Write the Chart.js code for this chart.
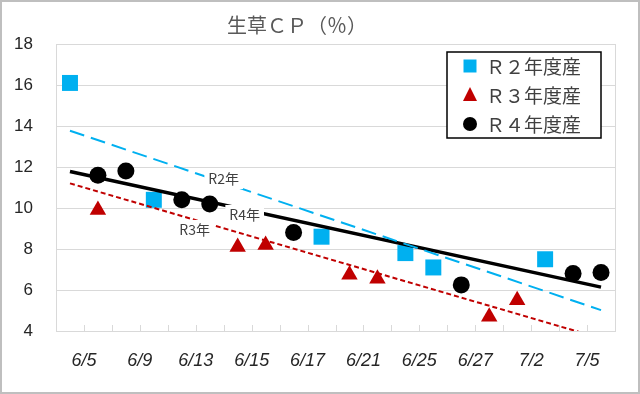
<!DOCTYPE html>
<html>
<head>
<meta charset="utf-8">
<script src="https://cdn.jsdelivr.net/npm/chart.js@4.4.1/dist/chart.umd.min.js"></script>
<style>
  body { margin: 0; background: #fff; }
</style>
</head>
<body>
<canvas id="cpChart" width="640" height="394"></canvas>
<script>
// data
const titleText = "生草ＣＰ（％）";
const xLabels = ["6/5", "6/9", "6/13", "6/15", "6/17", "6/21", "6/25", "6/27", "7/2", "7/5"];
const seriesNames = ["Ｒ２年度産", "Ｒ３年度産", "Ｒ４年度産"];

const r2Slots = [0, 3, 9, 12, 13, 17];
const r2Values = [16.1, 10.4, 8.6, 7.8, 7.1, 7.5];
const r3Slots = [1, 6, 7, 10, 11, 15, 16];
const r3Values = [9.9, 8.1, 8.2, 6.75, 6.55, 4.7, 5.5];
const r4Slots = [1, 2, 4, 5, 8, 14, 18, 19];
const r4Values = [11.6, 11.8, 10.4, 10.2, 8.8, 6.25, 6.8, 6.85];

// trend lines (start / end values at first and last slot)
const trendSlots = [0, 19];
const r2Trend = [13.77, 5.02];
const r3Trend = [11.2, 3.64];
const r4Trend = [11.78, 6.14];
const trendNames = ["R2年", "R4年", "R3年"];

const yTicks = [4, 6, 8, 10, 12, 14, 16, 18];

const toPoints = (slots, values) => slots.map((s, i) => ({ x: s + 0.5, y: values[i] }));

const blue = "#00B0F0";
const red = "#C00000";
const black = "#000000";

const jpFont = '"Noto Sans CJK JP", "Noto Sans", sans-serif';
const numFont = '"Liberation Sans", Arial, sans-serif';

const frame = {
  id: "frame",
  beforeDraw(chart) {
    const ctx = chart.ctx;
    ctx.save();
    ctx.fillStyle = "#fff";
    ctx.fillRect(0, 0, chart.width, chart.height);
    ctx.strokeStyle = "#bfbfbf";
    ctx.lineWidth = 2;
    ctx.strokeRect(1, 1, chart.width - 2, chart.height - 2);
    // title
    ctx.fillStyle = "#595959";
    ctx.font = "20px " + jpFont;
    ctx.textAlign = "center";
    ctx.textBaseline = "middle";
    ctx.fillText(titleText, 297, 25);
    ctx.restore();
  },
  beforeDatasetsDraw(chart) {
    const ctx = chart.ctx;
    const a = chart.chartArea;
    const xs = chart.scales.x;
    ctx.save();
    ctx.strokeStyle = "#d9d9d9";
    ctx.lineWidth = 1;
    ctx.strokeRect(Math.round(a.left) + 0.5, Math.round(a.top) + 0.5, Math.round(a.right - a.left), Math.round(a.bottom - a.top));
    // inside tick marks on the category axis
    ctx.beginPath();
    for (let v = 0; v <= 20; v++) {
      const px = Math.round(xs.getPixelForValue(v)) + 0.5;
      ctx.moveTo(px, a.bottom);
      ctx.lineTo(px, a.bottom - 6);
    }
    ctx.stroke();
    ctx.restore();
  },
  afterDatasetsDraw(chart) {
    const ctx = chart.ctx;
    const xs = chart.scales.x;
    const ys = chart.scales.y;
    const a = chart.chartArea;

    // trend line labels
    const anchors = [[6.0, 11.41], [6.75, 9.66], [4.96, 8.93]];
    ctx.save();
    ctx.font = "14px " + jpFont;
    ctx.textAlign = "center";
    ctx.textBaseline = "middle";
    trendNames.forEach((t, i) => {
      const px = xs.getPixelForValue(anchors[i][0]);
      const py = ys.getPixelForValue(anchors[i][1]);
      const w = ctx.measureText(t).width + 8;
      ctx.fillStyle = "#fff";
      ctx.fillRect(px - w / 2, py - 10, w, 20);
      ctx.fillStyle = "#404040";
      ctx.fillText(t, px, py);
    });

    // legend inside the plot
    const bx = a.right - 168, by = a.top + 8, bw = 154, bh = 86;
    ctx.fillStyle = "#fff";
    ctx.fillRect(bx, by, bw, bh);
    ctx.strokeStyle = "#000";
    ctx.lineWidth = 1.5;
    ctx.strokeRect(bx, by, bw, bh);
    const colors = [blue, red, black];
    ctx.font = "19px " + jpFont;
    ctx.textAlign = "left";
    seriesNames.forEach((name, i) => {
      const cx = bx + 23;
      const cy = by + 14 + i * 29;
      ctx.fillStyle = colors[i];
      ctx.beginPath();
      if (i === 0) {
        ctx.rect(cx - 6.5, cy - 6.5, 13, 13);
      } else if (i === 1) {
        ctx.moveTo(cx, cy - 8);
        ctx.lineTo(cx + 7, cy + 6);
        ctx.lineTo(cx - 7, cy + 6);
        ctx.closePath();
      } else {
        ctx.arc(cx, cy, 7, 0, Math.PI * 2);
      }
      ctx.fill();
      ctx.fillStyle = "#404040";
      ctx.fillText(name, bx + 39, cy + 1);
    });
    ctx.restore();
  }
};

const ctx = document.getElementById("cpChart").getContext("2d");
new Chart(ctx, {
  type: "scatter",
  data: {
    datasets: [
      {
        label: "R2 trend",
        data: toPoints(trendSlots, r2Trend),
        showLine: true,
        borderColor: blue,
        borderWidth: 2,
        borderDash: [15, 7],
        pointRadius: 0,
        order: 0
      },
      {
        label: "R3 trend",
        data: toPoints(trendSlots, r3Trend),
        showLine: true,
        borderColor: red,
        borderWidth: 2,
        borderDash: [5, 3],
        pointRadius: 0,
        order: 0
      },
      {
        label: "R4 trend",
        data: toPoints(trendSlots, r4Trend),
        showLine: true,
        borderColor: black,
        borderWidth: 3.5,
        pointRadius: 0,
        order: 0
      },
      {
        label: seriesNames[2],
        data: toPoints(r4Slots, r4Values),
        pointStyle: "circle",
        pointRadius: 8.5,
        backgroundColor: black,
        borderColor: black,
        borderWidth: 0,
        order: 1
      },
      {
        label: seriesNames[1],
        data: toPoints(r3Slots, r3Values),
        pointStyle: "triangle",
        pointRadius: 9.5,
        backgroundColor: red,
        borderColor: red,
        borderWidth: 0,
        order: 2
      },
      {
        label: seriesNames[0],
        data: toPoints(r2Slots, r2Values),
        pointStyle: "rect",
        pointRadius: 11.3,
        backgroundColor: blue,
        borderColor: blue,
        borderWidth: 0,
        order: 3
      }
    ]
  },
  options: {
    responsive: false,
    devicePixelRatio: 1,
    animation: false,
    layout: {
      padding: { left: 0, right: 25, top: 44, bottom: 0 }
    },
    plugins: {
      legend: { display: false },
      tooltip: { enabled: false },
      title: { display: false }
    },
    scales: {
      x: {
        type: "linear",
        min: 0,
        max: 20,
        afterBuildTicks(scale) {
          scale.ticks = [];
          for (let v = 0; v <= 20; v++) scale.ticks.push({ value: v });
        },
        afterFit(scale) {
          scale.height = 63;
        },
        grid: {
          drawOnChartArea: false,
          drawTicks: false
        },
        border: { color: "#d9d9d9" },
        ticks: {
          autoSkip: false,
          maxRotation: 0,
          padding: 19,
          color: "#262626",
          font: { family: numFont, size: 18, style: "italic" },
          callback: (v) => (v % 2 === 1 ? xLabels[(v - 1) / 2] : "")
        }
      },
      y: {
        min: 4,
        max: 18,
        afterBuildTicks(scale) {
          scale.ticks = yTicks.map(v => ({ value: v }));
        },
        afterFit(scale) {
          scale.width = 56;
        },
        grid: {
          color: "#d9d9d9",
          drawTicks: false
        },
        border: { color: "#d9d9d9" },
        ticks: {
          padding: 23,
          color: "#262626",
          font: { family: numFont, size: 17 }
        }
      }
    }
  },
  plugins: [frame]
});
</script>
</body>
</html>
